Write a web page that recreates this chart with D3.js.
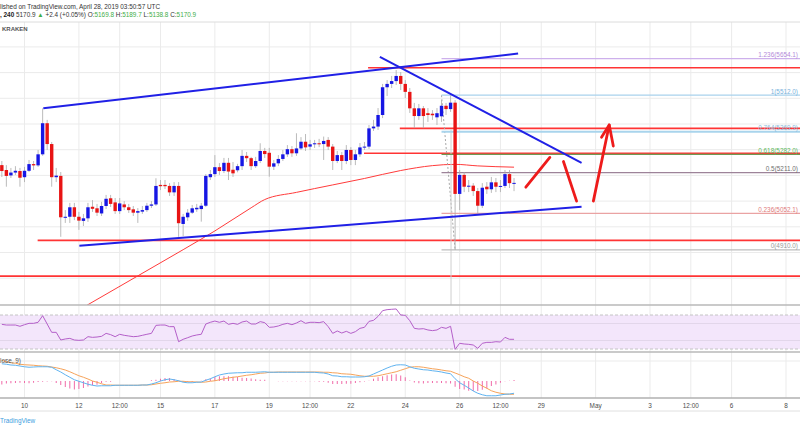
<!DOCTYPE html>
<html>
<head>
<meta charset="utf-8">
<script src="https://cdn.jsdelivr.net/npm/d3@7"></script>
<style>
  html, body { margin: 0; padding: 0; background: #fff; }
  svg { display: block; font-family: "Liberation Sans", Arial, sans-serif; }
</style>
</head>
<body>
<svg id="chart" width="800" height="430"></svg>
<script>
// BTCUSD 4h candles, first bar opens 2019-04-09 04:00 UTC
const opens = [
  5240, 5221, 5200, 5211, 5217, 5193, 5218, 5244, 5239, 5282,
  5403, 5322, 5193, 5198, 5035, 5039, 5076, 5039, 5023, 5033,
  5078, 5072, 5052, 5081, 5111, 5095, 5061, 5087, 5076, 5068,
  5055, 5059, 5065, 5082, 5087, 5163, 5163, 5159, 5134, 5159,
  5011, 5037, 5055, 5068, 5069, 5082, 5193, 5205, 5232, 5217,
  5249, 5222, 5220, 5236, 5276, 5267, 5236, 5256, 5295, 5288,
  5234, 5247, 5264, 5282, 5302, 5286, 5305, 5331, 5312, 5321,
  5325, 5322, 5338, 5312, 5256, 5279, 5256, 5299, 5260, 5282,
  5309, 5312, 5383, 5390, 5435, 5543, 5556, 5567, 5587, 5556,
  5525, 5461, 5431, 5461, 5442, 5440, 5426, 5430, 5471, 5458,
  5483, 5128, 5202, 5156, 5160, 5139, 5082, 5156, 5146, 5173,
  5156, 5159, 5205, 5169.8
];
const highs = [
  5256, 5240, 5229, 5236, 5229, 5233, 5260, 5256, 5299, 5461,
  5416, 5330, 5229, 5213, 5065, 5093, 5093, 5058, 5050, 5093,
  5104, 5089, 5097, 5124, 5124, 5112, 5112, 5100, 5089, 5081,
  5073, 5081, 5093, 5100, 5189, 5182, 5182, 5170, 5174, 5174,
  5050, 5069, 5085, 5089, 5093, 5205, 5221, 5279, 5248, 5268,
  5268, 5252, 5245, 5299, 5291, 5272, 5272, 5325, 5307, 5307,
  5260, 5279, 5299, 5318, 5314, 5364, 5349, 5361, 5338, 5338,
  5342, 5351, 5349, 5322, 5295, 5291, 5318, 5310, 5299, 5326,
  5330, 5396, 5416, 5462, 5556, 5571, 5587, 5610, 5602, 5571,
  5540, 5482, 5478, 5470, 5462, 5454, 5462, 5493, 5482, 5512,
  5493, 5221, 5213, 5182, 5170, 5151, 5170, 5174, 5194, 5190,
  5182, 5221, 5221, 5189.7
];
const lows = [
  5194, 5156, 5190, 5202, 5156, 5174, 5213, 5221, 5233, 5276,
  5299, 5156, 5174, 4961, 5015, 5015, 5026, 4988, 5003, 5019,
  5058, 5042, 5042, 5069, 5077, 5050, 5050, 5065, 5054, 5042,
  5015, 5050, 5058, 5073, 5081, 5143, 5147, 5120, 5120, 4961,
  4964, 5023, 5050, 5058, 5020, 5077, 5182, 5194, 5202, 5209,
  5182, 5194, 5212, 5221, 5252, 5221, 5229, 5248, 5268, 5195,
  5221, 5236, 5256, 5272, 5272, 5276, 5299, 5295, 5299, 5307,
  5310, 5260, 5299, 5221, 5248, 5221, 5244, 5240, 5240, 5272,
  5299, 5303, 5373, 5377, 5423, 5509, 5540, 5552, 5532, 5501,
  5443, 5384, 5416, 5384, 5408, 5416, 5396, 5408, 5435, 5447,
  4910, 5065, 5135, 5135, 5120, 5052, 5073, 5128, 5132, 5135,
  5135, 5151, 5151, 5138.8
];
const closes = [
  5217, 5198, 5211, 5218, 5191, 5218, 5244, 5239, 5282, 5403,
  5322, 5193, 5199, 5037, 5039, 5076, 5039, 5024, 5033, 5076,
  5070, 5055, 5081, 5109, 5089, 5061, 5091, 5076, 5065, 5055,
  5061, 5065, 5082, 5087, 5159, 5158, 5158, 5134, 5159, 5014,
  5039, 5055, 5072, 5074, 5082, 5198, 5205, 5232, 5217, 5249,
  5215, 5208, 5236, 5276, 5267, 5236, 5256, 5295, 5283, 5234,
  5247, 5264, 5282, 5302, 5286, 5305, 5331, 5309, 5321, 5325,
  5321, 5334, 5312, 5256, 5279, 5256, 5299, 5260, 5282, 5309,
  5312, 5383, 5390, 5435, 5543, 5556, 5567, 5587, 5556, 5525,
  5461, 5431, 5461, 5431, 5435, 5434, 5442, 5471, 5458, 5483,
  5128, 5202, 5156, 5160, 5139, 5082, 5152, 5146, 5173, 5156,
  5159, 5205, 5169.8, 5170.9
];

// moving average read at some bars
const maBars = [12, 19, 30, 40, 47, 55, 58, 65, 73, 80, 88, 95, 100, 105, 113];
const maValues = [4627, 4697, 4809, 4911, 4984, 5074, 5106, 5134, 5163, 5188, 5219, 5238, 5243, 5237, 5232];

const rsiValues = [
  59, 58.2, 58.2, 58.2, 56.7, 58.6, 60.2, 60.2, 61.4, 69.2,
  59.4, 49.6, 49.6, 40.6, 41.8, 42.5, 40.6, 40.2, 40.6, 44.5,
  43.7, 44.1, 44.9, 48.4, 46.9, 44.5, 47.3, 46.1, 45.3, 44.5,
  44.9, 46.1, 47.3, 48.4, 57.8, 58.2, 58.2, 56.3, 56.3, 38.6,
  41.4, 43.3, 45.3, 46.5, 47.3, 59.4, 61.4, 62.9, 61.4, 62.9,
  59, 60.2, 59, 61.8, 62.9, 59.4, 59.4, 62.2, 61, 55.5,
  55.9, 57.1, 59, 60.2, 58.6, 60.6, 63.3, 60.2, 61.4, 61.4,
  61, 62.2, 56.3, 48.4, 51.2, 48.8, 50.8, 48.4, 50.4, 54.3,
  55.5, 62.5, 63.7, 68.4, 75.1, 76.3, 76.7, 77.1, 70, 69.6,
  63.3, 54.3, 53.5, 53.9, 52.4, 51.6, 52.4, 55.5, 54.3, 56.7,
  29.6, 36.7, 35.9, 35.5, 34.7, 30.8, 36.7, 37.8, 37.8, 38.6,
  38.2, 43.7, 41.4, 41.4
];

const macdLine = [
  69, 67, 64, 63, 60, 57, 55, 56, 57, 57,
  57, 55, 45, 36, 25, 15, 5, -1, -7, -13,
  -17, -20, -19, -19, -19, -17, -17, -17, -17, -17,
  -17, -16, -16, -12, -7, 0, 5, 8, 5, 1,
  -5, -7, -7, -5, -4, 3, 9, 17, 24, 28,
  31, 32, 33, 33, 35, 35, 35, 36, 37, 35,
  35, 35, 35, 35, 35, 35, 35, 35, 35, 35,
  33, 32, 28, 21, 20, 17, 17, 16, 16, 16,
  17, 20, 28, 36, 44, 52, 59, 64, 65, 64,
  57, 51, 48, 45, 44, 41, 39, 36, 32, 29,
  9, -7, -17, -28, -40, -49, -55, -59, -59, -59,
  -56, -53, -52, -49
];
const signalLine = [
  83, 77, 73, 71, 67, 65, 64, 63, 61, 60,
  59, 56, 53, 49, 44, 37, 29, 21, 15, 8,
  0, -5, -11, -16, -16, -17, -17, -17, -17, -17,
  -17, -16, -16, -15, -12, -9, -7, -4, -3, -1,
  -1, -3, -3, -4, -5, -4, -1, 1, 5, 9,
  12, 15, 17, 20, 23, 25, 28, 31, 32, 35,
  35, 36, 36, 36, 36, 36, 36, 36, 36, 36,
  36, 35, 35, 33, 32, 29, 28, 27, 24, 21,
  19, 19, 19, 21, 25, 29, 33, 37, 43, 49,
  55, 57, 57, 55, 52, 49, 47, 44, 41, 39,
  32, 25, 17, 11, 0, -9, -20, -29, -39, -45,
  -49, -52, -53, -53
];
const macdHist = [
  -14, -10, -9, -8, -7, -8, -9, -7, -4, -3,
  -2, -1, -8, -16, -24, -30, -34, -32, -28, -22,
  -17, -15, -8, -3, -3, 0, 0, 0, 0, 0,
  0, 0, 0, 3, 5, 9, 12, 12, 8, 2,
  -4, -4, -4, -1, 1, 7, 10, 16, 19, 19,
  19, 17, 16, 13, 12, 10, 7, 5, 5, 0,
  0, -1, -1, -1, -1, -1, -1, -1, -1, -1,
  -3, -3, -7, -12, -12, -12, -11, -11, -8, -5,
  -2, 1, 9, 15, 19, 23, 26, 27, 22, 15,
  2, -6, -9, -10, -8, -8, -8, -8, -9, -10,
  -23, -32, -34, -39, -40, -40, -35, -30, -20, -14,
  -7, -1, 1, 4
];

// time axis
const tickDates = [
  '2019-04-10', '2019-04-12', '2019-04-13T12:00', '2019-04-15', '2019-04-17', '2019-04-19',
  '2019-04-20T12:00', '2019-04-22', '2019-04-24', '2019-04-26', '2019-04-27T12:00', '2019-04-29',
  '2019-05-01', '2019-05-03', '2019-05-04T12:00', '2019-05-06', '2019-05-08'
];
const tickLabels = ['10', '12', '12:00', '15', '17', '19', '12:00', '22', '24', '26', '12:00', '29', 'May', '3', '12:00', '6', '8'];
const priceGrid = [4800, 4900, 5000, 5100, 5200, 5300, 5400, 5500, 5600, 5700];

// drawings: [bar index, price]
const upperChannel = [[9.15, 5461], [113.9, 5674]];
const lowerChannel = [[17.1, 4926], [127.9, 5078]];
const fallingLine = [[83.4, 5661], [127.9, 5249]];
const redLevels = [5619, 5383, 5286, 4947, 4808];
const redLevelStart = [80.8, 87.8, 79.9, 7.9, -2];
const arrowOne = [[115.6, 5154], [120.9, 5270]];
const arrowTwo = [[123.9, 5254], [126.8, 5100]];
const arrowThree = [[130.5, 5100], [134.0, 5396]];
const arrowHead = [[132.3, 5348], [134.0, 5396], [134.9, 5314]];

// fib retracement
const fibLow = 4910;
const fibHigh = 5512;
const fibStartBar = 97;
const fibLevels = [1.236, 1, 0.764, 0.618, 0.5, 0.236, 0];
const fibLineColors = ['#cdb0ec', '#a9d2ec', '#a9d4ec', '#6f9a55', '#9d8399', '#eaa3a3', '#bdbdbd'];
const fibTextColors = ['#b38ad9', '#79b2dc', '#8bbbdc', '#5cb85c', '#6e6e6e', '#e07b7b', '#9a9a9a'];

const svg = d3.select('#chart');
const width = 800;
const firstBar = Date.UTC(2019, 3, 9, 4);
const barDate = (i) => new Date(firstBar + i * 4 * 3600 * 1000);

const x = d3.scaleUtc()
  .domain([new Date(Date.UTC(2019, 3, 10)), new Date(Date.UTC(2019, 4, 8))])
  .range([24.5, 786]);
const bx = (i) => x(barDate(i));

const y = d3.scaleLinear().domain([4700, 5800]).range([303.9, 21.2]);
const yRsi = d3.scaleLinear().domain([30, 70]).range([349, 315]);
const yMacd = d3.scaleLinear().domain([0, 80]).range([381, 361]);

const fontSize = 6.4;

// clip paths
const defs = svg.append('defs');
[['mainClip', 22, 305], ['rsiClip', 305, 352], ['macdClip', 352, 398]].forEach(([id, y0, y1]) => {
  defs.append('clipPath').attr('id', id)
    .append('rect').attr('x', 0).attr('y', y0).attr('width', width).attr('height', y1 - y0);
});

// grid
const grid = svg.append('g');
grid.selectAll('line.v')
  .data(tickDates)
  .enter()
  .append('line')
  .attr('x1', (d) => x(new Date(d + 'Z')))
  .attr('x2', (d) => x(new Date(d + 'Z')))
  .attr('y1', 22)
  .attr('y2', 398)
  .attr('stroke', '#ebebeb')
  .attr('stroke-width', 1);

grid.selectAll('line.h')
  .data(priceGrid)
  .enter()
  .append('line')
  .attr('x1', 0)
  .attr('x2', width)
  .attr('y1', (d) => y(d))
  .attr('y2', (d) => y(d))
  .attr('stroke', '#ebebeb');

// ---------- main pane ----------
const main = svg.append('g').attr('clip-path', 'url(#mainClip)');

const lineXY = d3.line().x((d) => bx(d[0])).y((d) => y(d[1]));

// moving average
main.append('path')
  .datum(maBars.map((b, i) => [b, maValues[i]]))
  .attr('d', lineXY.curve(d3.curveMonotoneX))
  .attr('fill', 'none')
  .attr('stroke', '#ff3b3b')
  .attr('stroke-width', 1);
lineXY.curve(d3.curveLinear);

// red horizontal levels
main.selectAll('line.level')
  .data(redLevels)
  .enter()
  .append('line')
  .attr('x1', (d, i) => bx(redLevelStart[i]))
  .attr('x2', width)
  .attr('y1', (d) => y(d))
  .attr('y2', (d) => y(d))
  .attr('stroke', '#ff3434')
  .attr('stroke-width', 1.6);

// fib retracement
const fibPrice = (lv) => fibLow + lv * (fibHigh - fibLow);
main.append('line')
  .attr('x1', bx(97)).attr('y1', y(fibHigh))
  .attr('x2', bx(100)).attr('y2', y(fibLow))
  .attr('stroke', '#a8a8a8')
  .attr('stroke-dasharray', '2,2');
main.append('line')
  .attr('x1', bx(99.1)).attr('x2', bx(99.1))
  .attr('y1', y(5380)).attr('y2', 305)
  .attr('stroke', '#cfcfcf');

main.selectAll('line.fib')
  .data(fibLevels)
  .enter()
  .append('line')
  .attr('x1', bx(fibStartBar))
  .attr('x2', width)
  .attr('y1', (d) => y(fibPrice(d)))
  .attr('y2', (d) => y(fibPrice(d)))
  .attr('stroke', (d, i) => fibLineColors[i])
  .attr('stroke-width', (d) => (d === 0.764 ? 2.2 : 1.2));

main.selectAll('text.fib')
  .data(fibLevels)
  .enter()
  .append('text')
  .text((d) => `${d}(${fibPrice(d).toFixed(1)})`)
  .attr('x', 798)
  .attr('y', (d) => y(fibPrice(d)) - 1.5)
  .attr('text-anchor', 'end')
  .attr('font-size', fontSize)
  .attr('fill', (d, i) => fibTextColors[i]);

// candles
const candles = d3.range(opens.length);
main.selectAll('line.wick')
  .data(candles)
  .enter()
  .append('line')
  .attr('x1', (i) => bx(i))
  .attr('x2', (i) => bx(i))
  .attr('y1', (i) => y(highs[i]))
  .attr('y2', (i) => y(lows[i]))
  .attr('stroke', '#a9a9a9')
  .attr('stroke-width', 0.8);

main.selectAll('rect.body')
  .data(candles)
  .enter()
  .append('rect')
  .attr('x', (i) => bx(i) - 1.7)
  .attr('width', 3.4)
  .attr('y', (i) => y(Math.max(opens[i], closes[i])))
  .attr('height', (i) => Math.max(1, Math.abs(y(opens[i]) - y(closes[i]))))
  .attr('fill', (i) => (closes[i] >= opens[i] ? '#1616e4' : '#e81414'));

// blue trend lines
[upperChannel, lowerChannel, fallingLine].forEach((pts) => {
  main.append('path')
    .datum(pts)
    .attr('d', lineXY)
    .attr('fill', 'none')
    .attr('stroke', '#2020e6')
    .attr('stroke-width', 2);
});

// red arrows
[arrowOne, arrowTwo, arrowThree, arrowHead].forEach((pts) => {
  main.append('path')
    .datum(pts)
    .attr('d', lineXY)
    .attr('fill', 'none')
    .attr('stroke', '#ee1b1b')
    .attr('stroke-width', 2.8)
    .attr('stroke-linecap', 'round')
    .attr('stroke-linejoin', 'round');
});

// ---------- RSI pane ----------
const rsi = svg.append('g').attr('clip-path', 'url(#rsiClip)');
rsi.append('rect')
  .attr('x', 0).attr('width', width)
  .attr('y', yRsi(70)).attr('height', yRsi(30) - yRsi(70))
  .attr('fill', '#f3e6fb');
rsi.selectAll('line.rg')
  .data([60, 40])
  .enter()
  .append('line')
  .attr('x1', 0).attr('x2', width)
  .attr('y1', (d) => yRsi(d)).attr('y2', (d) => yRsi(d))
  .attr('stroke', '#e2d6ea');
rsi.selectAll('line.band')
  .data([70, 30])
  .enter()
  .append('line')
  .attr('x1', 0).attr('x2', width)
  .attr('y1', (d) => yRsi(d)).attr('y2', (d) => yRsi(d))
  .attr('stroke', '#c4c4c4')
  .attr('stroke-dasharray', '3,2');
rsi.append('path')
  .datum(rsiValues)
  .attr('d', d3.line().x((d, i) => bx(i)).y((d) => yRsi(d)))
  .attr('fill', 'none')
  .attr('stroke', '#b45fc9')
  .attr('stroke-width', 1);

// ---------- MACD pane ----------
const macd = svg.append('g').attr('clip-path', 'url(#macdClip)');
macd.selectAll('line.mg')
  .data([80])
  .enter()
  .append('line')
  .attr('x1', 0).attr('x2', width)
  .attr('y1', (d) => yMacd(d)).attr('y2', (d) => yMacd(d))
  .attr('stroke', '#ebebeb');
macd.selectAll('line.hist')
  .data(macdHist)
  .enter()
  .append('line')
  .attr('x1', (d, i) => bx(i))
  .attr('x2', (d, i) => bx(i))
  .attr('y1', yMacd(0))
  .attr('y2', (d) => yMacd(d))
  .attr('stroke', '#f06aa8')
  .attr('stroke-width', 1);
macd.append('path')
  .datum(signalLine)
  .attr('d', d3.line().x((d, i) => bx(i)).y((d) => yMacd(d)))
  .attr('fill', 'none')
  .attr('stroke', '#f6a35a')
  .attr('stroke-width', 1);
macd.append('path')
  .datum(macdLine)
  .attr('d', d3.line().x((d, i) => bx(i)).y((d) => yMacd(d)))
  .attr('fill', 'none')
  .attr('stroke', '#5fb3f0')
  .attr('stroke-width', 1);
svg.append('text')
  .text('lose, 9)')
  .attr('x', 0).attr('y', 362.5)
  .attr('font-size', fontSize)
  .attr('fill', '#555');

// ---------- separators ----------
const seps = [[22, '#dcdcdc', 1], [305, '#b9b9b9', 1.3], [352, '#b9b9b9', 1.3], [398, '#b0b0b0', 1.3], [411, '#e0e0e0', 1]];
svg.selectAll('line.sep')
  .data(seps)
  .enter()
  .append('line')
  .attr('x1', 0).attr('x2', width)
  .attr('y1', (d) => d[0]).attr('y2', (d) => d[0])
  .attr('stroke', (d) => d[1])
  .attr('stroke-width', (d) => d[2]);

// time axis labels
svg.append('g')
  .selectAll('text')
  .data(tickDates)
  .enter()
  .append('text')
  .text((d, i) => tickLabels[i])
  .attr('x', (d) => x(new Date(d + 'Z')))
  .attr('y', 408)
  .attr('text-anchor', 'middle')
  .attr('font-size', fontSize)
  .attr('fill', '#4d4d4d');

// header
svg.append('text')
  .text('lished on TradingView.com, April 28, 2019 03:50:57 UTC')
  .attr('x', 0).attr('y', 8.5)
  .attr('font-size', fontSize)
  .attr('fill', '#333');

const info = svg.append('text')
  .attr('x', 0).attr('y', 17)
  .attr('font-size', fontSize)
  .attr('fill', '#333');
const green = '#3fae49';
[[', 240 ', '#222', 'bold'], ['5170.9 ', '#333'], ['\u25B2', green], [' +2.4 (+0.05%) ', '#333'],
 ['O:', '#333'], ['5169.8 ', green], ['H:', '#333'], ['5189.7 ', green],
 ['L:', '#333'], ['5138.8 ', green], ['C:', '#333'], ['5170.9', green]]
  .forEach(([t, c, w]) => {
    info.append('tspan').text(t).attr('fill', c).attr('font-weight', w || 'normal');
  });

svg.append('text')
  .text('KRAKEN')
  .attr('x', 2).attr('y', 31)
  .attr('font-size', 6)
  .attr('font-weight', 'bold')
  .attr('fill', '#555');

svg.append('text')
  .text('TradingView')
  .attr('x', 0).attr('y', 423)
  .attr('font-size', fontSize)
  .attr('fill', '#3ca0e0');
</script>
</body>
</html>
